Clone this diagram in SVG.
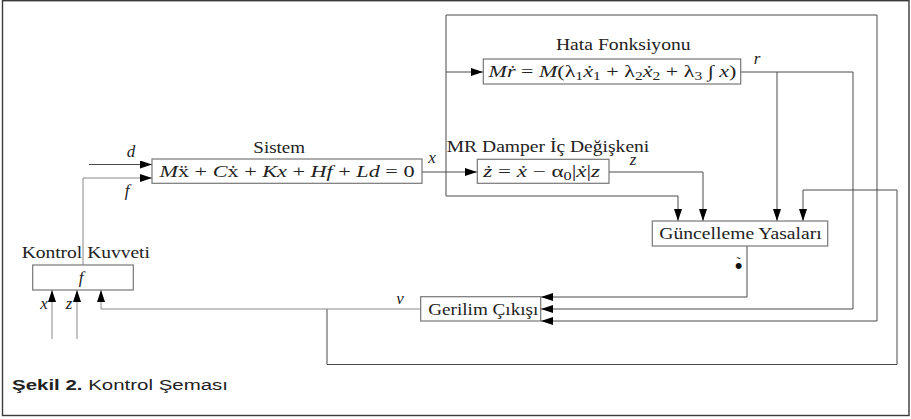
<svg xmlns="http://www.w3.org/2000/svg" width="911" height="419" viewBox="0 0 911 419">
<style>
.frame{fill:#fff;stroke:#3a3a3a;stroke-width:1.4}
.box{fill:#fff;stroke:#777;stroke-width:1.2}
.ln{fill:none;stroke:#4a4a4a;stroke-width:1}
.lt{fill:none;stroke:#888;stroke-width:1}
.t{font-family:'Liberation Serif',serif;font-size:17px;fill:#222;text-anchor:middle}
.m{font-family:'Liberation Serif',serif;font-size:17px;fill:#222;text-anchor:middle}
.i{font-style:italic}
.s{font-size:12px}
.lab{font-family:'Liberation Serif',serif;font-size:17px;font-style:italic;fill:#222;text-anchor:middle}
.cap{font-family:'Liberation Sans',sans-serif;font-size:15.5px;fill:#222}
</style>
<defs>
<marker id="ah" markerUnits="userSpaceOnUse" markerWidth="12" markerHeight="8" refX="12" refY="4" orient="auto">
<path d="M0,0 L12,4 L0,8 z" fill="#000"/>
</marker>
</defs>
<rect class="frame" x="2.5" y="0.7" width="906.5" height="414.8"/>

<g id="connectors">
<path class="ln" d="M89,164.5 H152" marker-end="url(#ah)"/>
<path class="lt" d="M83,265 V178 H152" marker-end="url(#ah)"/>
<path class="ln" d="M422,172 H477" marker-end="url(#ah)"/>
<path class="ln" d="M446,72 H483" marker-end="url(#ah)"/>
<path class="ln" d="M446,15 V196 H678 V221" marker-end="url(#ah)"/>
<path class="ln" d="M446,15 H877 V321 H541" marker-end="url(#ah)"/>
<path class="ln" d="M609,172 H703 V221" marker-end="url(#ah)"/>
<path class="ln" d="M741,72 H853 V309 H541" marker-end="url(#ah)"/>
<path class="ln" d="M777,72 V221" marker-end="url(#ah)"/>
<path class="ln" d="M747,246 V297 H541" marker-end="url(#ah)"/>
<path class="ln" d="M327,309 V364.5 H897 V190 H803 V221" marker-end="url(#ah)"/>
<path class="lt" d="M421,309 H101 V290" marker-end="url(#ah)"/>
<path class="lt" d="M52,339 V290" marker-end="url(#ah)"/>
<path class="lt" d="M77,339 V290" marker-end="url(#ah)"/>
</g>

<g id="labels">
<text class="lab" x="131" y="157">d</text>
<text class="lab" x="127" y="196">f</text>
<text class="lab" x="432" y="163">x</text>
<text class="lab" x="757" y="64">r</text>
<text class="lab" x="633" y="165">z</text>
<text class="lab" x="400" y="304">v</text>
<text class="lab" x="44" y="309">x</text>
<text class="lab" x="69" y="309">z</text>
<text x="738.5" y="266" font-family="'Liberation Sans',sans-serif" fill="#111" text-anchor="middle"><tspan font-size="12" font-family="'Liberation Serif',serif">˜</tspan><tspan x="738.5" dy="7" font-size="22">•</tspan></text>
</g>

<g id="sistem">
<text class="t" x="279.2" y="153" textLength="51.7" lengthAdjust="spacingAndGlyphs">Sistem</text>
<rect class="box" x="152" y="159" width="270" height="24.3"/>
<text class="m" x="287" y="177" textLength="255" lengthAdjust="spacingAndGlyphs"><tspan class="i">M</tspan>ẍ + <tspan class="i">C</tspan>ẋ + <tspan class="i">Kx</tspan> + <tspan class="i">Hf</tspan> + <tspan class="i">Ld</tspan> = 0</text>
</g>

<g id="hata">
<text class="t" x="623.3" y="50" textLength="134.7" lengthAdjust="spacingAndGlyphs">Hata Fonksiyonu</text>
<rect class="box" x="483.3" y="59" width="257.4" height="25"/>
<text class="m" x="612.5" y="77" textLength="248" lengthAdjust="spacingAndGlyphs"><tspan class="i">Mṙ</tspan> = <tspan class="i">M</tspan>(λ<tspan class="s" dy="3">1</tspan><tspan class="i" dy="-3">ẋ</tspan><tspan class="s" dy="3">1</tspan><tspan dy="-3"> + λ</tspan><tspan class="s" dy="3">2</tspan><tspan class="i" dy="-3">ẋ</tspan><tspan class="s" dy="3">2</tspan><tspan dy="-3"> + λ</tspan><tspan class="s" dy="3">3</tspan><tspan dy="-3"> ∫ </tspan><tspan class="i">x</tspan>)</text>
</g>

<g id="damper">
<text class="t" x="548" y="151.7" textLength="202.6" lengthAdjust="spacingAndGlyphs">MR Damper İç Değişkeni</text>
<rect class="box" x="477.3" y="159.3" width="131.7" height="24"/>
<text class="m" x="541.7" y="177" textLength="116.7" lengthAdjust="spacingAndGlyphs"><tspan class="i">ż</tspan> = <tspan class="i">ẋ</tspan> − α<tspan class="s" dy="3">0</tspan><tspan dy="-3">|</tspan><tspan class="i">ẋ</tspan>|<tspan class="i">z</tspan></text>
</g>

<g id="guncelleme">
<rect class="box" x="652.3" y="221" width="175.4" height="25"/>
<text class="t" x="740.5" y="238.5" textLength="162.3" lengthAdjust="spacingAndGlyphs">Güncelleme Yasaları</text>
</g>

<g id="gerilim">
<rect class="box" x="420.7" y="296.7" width="120" height="24.3"/>
<text class="t" x="483.3" y="314.5" textLength="110" lengthAdjust="spacingAndGlyphs">Gerilim Çıkışı</text>
</g>

<g id="kontrol">
<text class="t" x="85.8" y="258" textLength="128.3" lengthAdjust="spacingAndGlyphs">Kontrol Kuvveti</text>
<rect class="box" x="32.7" y="265" width="100.6" height="25"/>
<text class="lab" x="81" y="283">f</text>
</g>

<text class="cap" x="12" y="389.5" textLength="216" lengthAdjust="spacingAndGlyphs"><tspan font-weight="bold">Şekil 2.</tspan> Kontrol Şeması</text>
</svg>
